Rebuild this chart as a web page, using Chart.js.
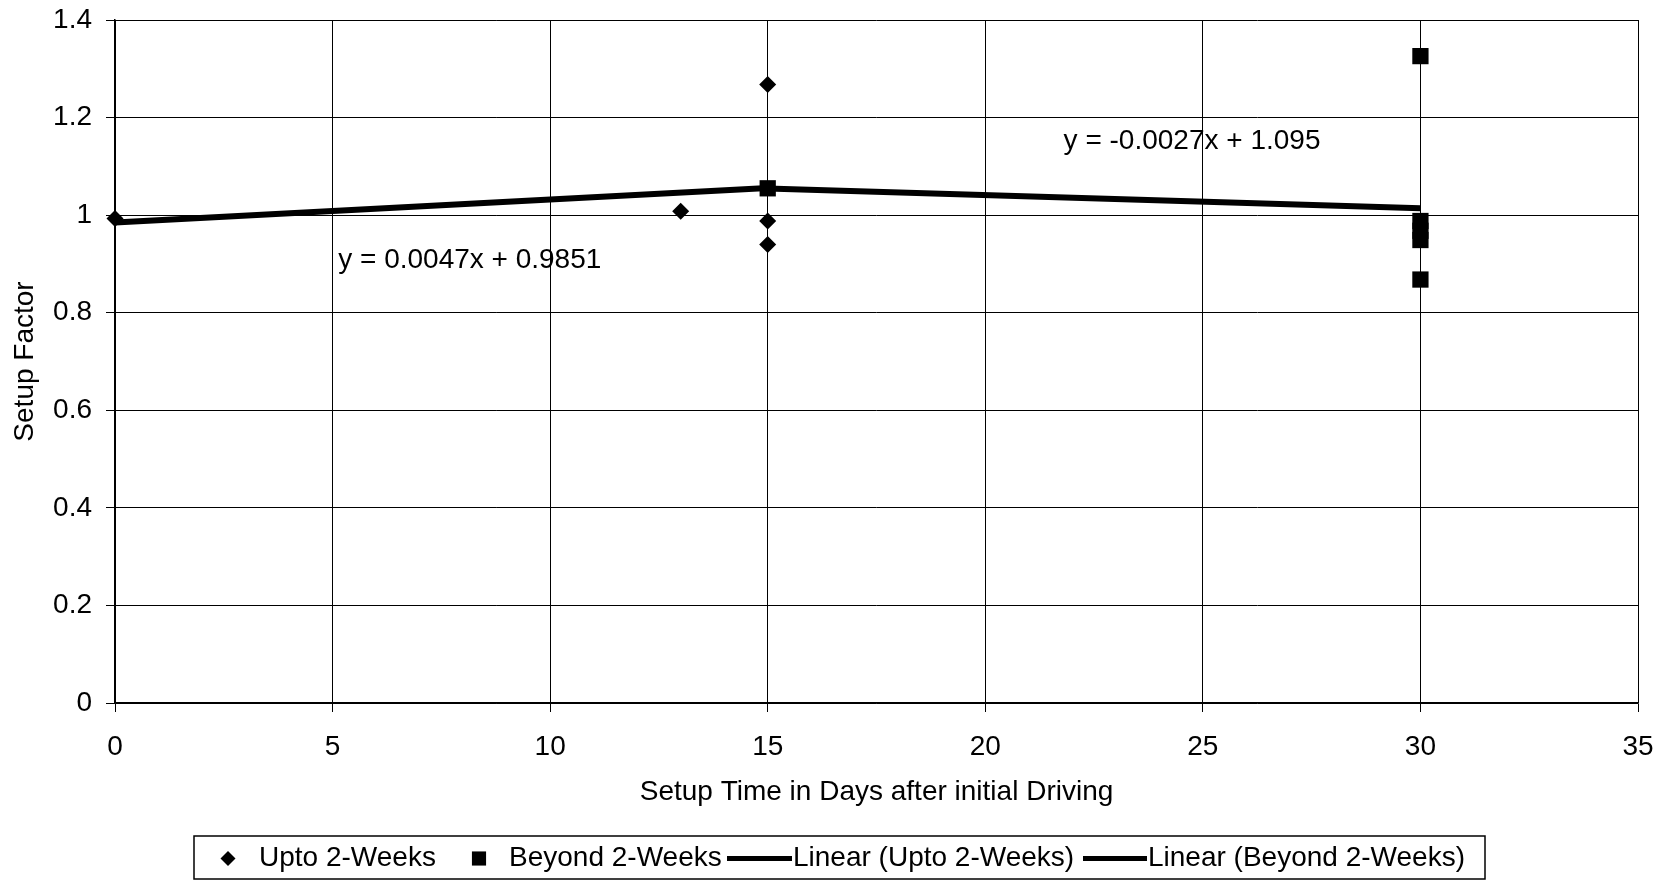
<!DOCTYPE html>
<html>
<head>
<meta charset="utf-8">
<title>Setup Factor vs Setup Time</title>
<script src="https://cdn.jsdelivr.net/npm/chart.js@4/dist/chart.umd.min.js"></script>
<style>
  html, body { margin: 0; padding: 0; background: #fff; }
  canvas { display: block; }
</style>
</head>
<body>
<canvas id="setup-chart" width="1667" height="881"></canvas>
<script>
// Setup factor measurements, split at the two-week mark.
var uptoDays = [0, 13, 15, 15, 15];
var uptoFactor = [0.993, 1.008, 1.268, 0.988, 0.940];

var beyondDays = [15, 30, 30, 30, 30, 30];
var beyondFactor = [1.055, 1.326, 0.988, 0.968, 0.949, 0.868];

// Linear trend lines: slope, intercept and the day range each covers.
var trendNames = ['Linear (Upto 2-Weeks)', 'Linear (Beyond 2-Weeks)'];
var trendSlope = [0.0047, -0.0027];
var trendIntercept = [0.9851, 1.095];
var trendFrom = [0, 15];
var trendTo = [15, 30];
var trendText = ['y = 0.0047x + 0.9851', 'y = -0.0027x + 1.095'];

var xTickLabels = ['0', '5', '10', '15', '20', '25', '30', '35'];
var yTickLabels = ['0', '0.2', '0.4', '0.6', '0.8', '1', '1.2', '1.4'];

var seriesNames = ['Upto 2-Weeks', 'Beyond 2-Weeks'];

var FONT = '"Liberation Sans", Arial, Helvetica, sans-serif';
var FONT_SIZE = 28;
Chart.defaults.font.family = FONT;
Chart.defaults.font.size = FONT_SIZE;
Chart.defaults.color = '#000';

function points(xs, ys) {
	return xs.map(function (x, i) {
		return { x: x, y: ys[i] };
	});
}

function trendPoints(i) {
	return [
		{ x: trendFrom[i], y: trendSlope[i] * trendFrom[i] + trendIntercept[i] },
		{ x: trendTo[i], y: trendSlope[i] * trendTo[i] + trendIntercept[i] }
	];
}

// Equation labels placed in data space next to their trend lines.
var equationPlugin = {
	id: 'equations',
	afterDatasetsDraw: function (chart) {
		var ctx = chart.ctx;
		var xs = chart.scales.x;
		var ys = chart.scales.y;
		var spots = [{ x: 5.13, y: 0.908 }, { x: 21.8, y: 1.152 }];
		ctx.save();
		ctx.font = FONT_SIZE + 'px ' + FONT;
		ctx.fillStyle = '#000';
		ctx.textAlign = 'left';
		ctx.textBaseline = 'middle';
		trendText.forEach(function (t, i) {
			ctx.fillText(t, xs.getPixelForValue(spots[i].x), ys.getPixelForValue(spots[i].y));
		});
		ctx.restore();
	}
};

// Boxed legend along the bottom edge, Excel style.
var boxLegendPlugin = {
	id: 'boxLegend',
	afterDraw: function (chart) {
		var ctx = chart.ctx;
		var top = 836, height = 43, cy = top + height / 2 + 1;
		ctx.save();
		ctx.strokeStyle = '#000';
		ctx.lineWidth = 1.5;
		ctx.strokeRect(194, top, 1291, height);

		ctx.fillStyle = '#000';
		Chart.helpers.drawPoint(ctx, { pointStyle: 'rectRot', radius: 7.5, rotation: 0, borderWidth: 0 }, 228, cy);
		Chart.helpers.drawPoint(ctx, { pointStyle: 'rect', radius: 10, rotation: 0, borderWidth: 0 }, 479, cy);

		ctx.lineWidth = 5;
		ctx.beginPath();
		ctx.moveTo(727, cy);
		ctx.lineTo(792, cy);
		ctx.moveTo(1083, cy);
		ctx.lineTo(1147, cy);
		ctx.stroke();

		ctx.font = FONT_SIZE + 'px ' + FONT;
		ctx.textAlign = 'left';
		ctx.textBaseline = 'middle';
		ctx.fillText(seriesNames[0], 259, cy);
		ctx.fillText(seriesNames[1], 509, cy);
		ctx.fillText(trendNames[0], 793, cy);
		ctx.fillText(trendNames[1], 1148, cy);
		ctx.restore();
	}
};

var canvas = document.getElementById('setup-chart');
new Chart(canvas.getContext('2d'), {
	type: 'scatter',
	data: {
		datasets: [
			{
				label: trendNames[0],
				data: trendPoints(0),
				showLine: true,
				borderColor: '#000',
				borderWidth: 6,
				pointRadius: 0,
				order: 0,
				clip: false
			},
			{
				label: trendNames[1],
				data: trendPoints(1),
				showLine: true,
				borderColor: '#000',
				borderWidth: 6,
				pointRadius: 0,
				order: 0,
				clip: false
			},
			{
				label: seriesNames[0],
				data: points(uptoDays, uptoFactor),
				pointStyle: 'rectRot',
				pointRadius: 8.5,
				backgroundColor: '#000',
				borderColor: '#000',
				borderWidth: 0,
				order: 1,
				clip: false
			},
			{
				label: seriesNames[1],
				data: points(beyondDays, beyondFactor),
				pointStyle: 'rect',
				pointRadius: 11.5,
				backgroundColor: '#000',
				borderColor: '#000',
				borderWidth: 0,
				order: 1,
				clip: false
			}
		]
	},
	options: {
		responsive: false,
		devicePixelRatio: 1,
		animation: false,
		layout: {
			padding: { left: 0, right: 29, top: 20, bottom: 0 }
		},
		plugins: {
			legend: { display: false },
			tooltip: { enabled: false }
		},
		scales: {
			x: {
				type: 'linear',
				min: 0,
				max: 35,
				afterFit: function (scale) {
					scale.height = 178;
					scale.paddingLeft = 0;
					scale.paddingRight = 0;
				},
				ticks: {
					stepSize: 5,
					padding: 18,
					maxRotation: 0,
					callback: function (v, i) { return xTickLabels[i]; }
				},
				grid: { color: '#000', lineWidth: 1, tickLength: 9, tickColor: '#000' },
				border: { display: true, color: '#000', width: 1.5 },
				title: {
					display: true,
					text: 'Setup Time in Days after initial Driving',
					padding: { top: 0, bottom: 72 }
				}
			},
			y: {
				type: 'linear',
				min: 0,
				max: 1.4,
				afterFit: function (scale) {
					scale.width = 115;
					scale.paddingTop = 0;
					scale.paddingBottom = 0;
				},
				ticks: {
					stepSize: 0.2,
					padding: 14,
					callback: function (v, i) { return yTickLabels[i]; }
				},
				grid: { color: '#000', lineWidth: 1, tickLength: 9, tickColor: '#000' },
				border: { display: true, color: '#000', width: 1.5 },
				title: {
					display: true,
					text: 'Setup Factor',
					padding: { top: 8, bottom: 0 }
				}
			}
		}
	},
	plugins: [equationPlugin, boxLegendPlugin]
});
</script>
</body>
</html>
